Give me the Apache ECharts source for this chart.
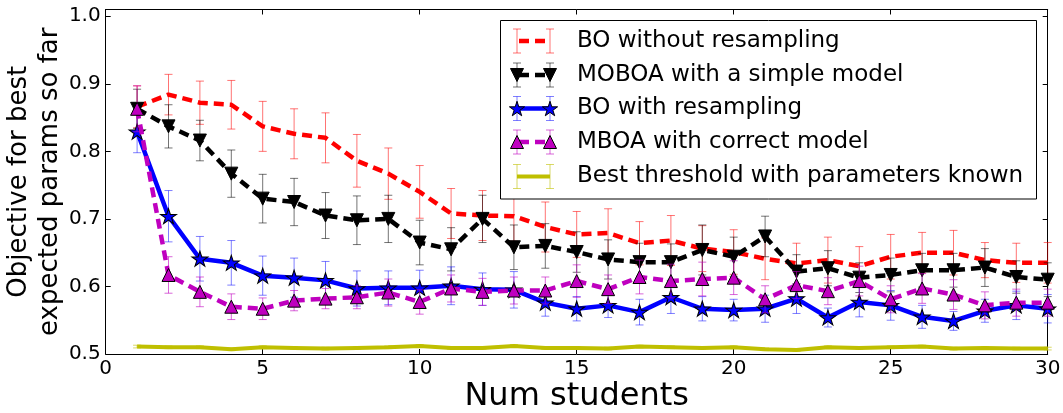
<!DOCTYPE html>
<html>
<head>
<meta charset="utf-8">
<script src="https://cdn.jsdelivr.net/npm/echarts@6/dist/echarts.min.js"></script>
<style>
html,body{margin:0;padding:0;background:#fff;}
#chart{width:1063px;height:413px;}
</style>
</head>
<body>
<div id="chart"></div>
<script>
const numStudents = [1,2,3,4,5,6,7,8,9,10,11,12,13,14,15,16,17,18,19,20,21,22,23,24,25,26,27,28,29,30];
const xTicks = [0,5,10,15,20,25,30];
const yTicks = [0.5,0.6,0.7,0.8,0.9,1.0];

const boNoResample = [0.866,0.884,0.872,0.869,0.837,0.826,0.820,0.786,0.767,0.740,0.708,0.705,0.704,0.688,0.677,0.679,0.664,0.668,0.656,0.651,0.641,0.634,0.639,0.630,0.644,0.650,0.650,0.639,0.635,0.635];
const boNoResampleErr = [0.031,0.030,0.032,0.036,0.037,0.037,0.037,0.039,0.038,0.039,0.037,0.037,0.037,0.037,0.034,0.036,0.032,0.037,0.034,0.033,0.031,0.030,0.034,0.029,0.033,0.030,0.033,0.026,0.029,0.030];

const moboaSimple = [0.863,0.837,0.816,0.767,0.730,0.725,0.705,0.698,0.700,0.665,0.655,0.700,0.658,0.660,0.651,0.640,0.636,0.636,0.654,0.644,0.674,0.622,0.627,0.613,0.617,0.624,0.624,0.628,0.614,0.610];
const moboaSimpleErr = [0.029,0.032,0.030,0.035,0.036,0.035,0.034,0.036,0.035,0.033,0.032,0.035,0.033,0.033,0.030,0.029,0.028,0.027,0.037,0.029,0.030,0.025,0.026,0.022,0.025,0.025,0.025,0.028,0.024,0.025];

const boResample = [0.829,0.704,0.641,0.635,0.616,0.613,0.609,0.597,0.598,0.598,0.601,0.596,0.595,0.576,0.567,0.572,0.562,0.584,0.567,0.565,0.567,0.582,0.554,0.577,0.572,0.555,0.549,0.564,0.572,0.567];
const boResampleErr = [0.031,0.038,0.033,0.033,0.029,0.029,0.028,0.026,0.025,0.026,0.028,0.024,0.027,0.020,0.018,0.018,0.019,0.024,0.018,0.016,0.020,0.022,0.014,0.022,0.022,0.017,0.014,0.017,0.021,0.021];

const mboaCorrect = [0.863,0.617,0.592,0.570,0.567,0.579,0.582,0.584,0.591,0.577,0.597,0.592,0.594,0.594,0.608,0.596,0.614,0.608,0.611,0.613,0.581,0.602,0.593,0.608,0.581,0.597,0.588,0.572,0.576,0.576];
const mboaCorrectErr = [0.034,0.027,0.022,0.019,0.016,0.015,0.015,0.017,0.020,0.018,0.020,0.020,0.020,0.020,0.024,0.021,0.025,0.025,0.025,0.025,0.020,0.020,0.020,0.022,0.020,0.022,0.022,0.020,0.020,0.020];

const bestThreshold = [0.511,0.510,0.510,0.507,0.510,0.509,0.508,0.509,0.510,0.512,0.509,0.509,0.512,0.509,0.509,0.508,0.511,0.510,0.509,0.510,0.507,0.506,0.510,0.509,0.510,0.511,0.508,0.509,0.508,0.508];
const bestThresholdErr = [0.002,0.002,0.002,0.002,0.002,0.002,0.002,0.002,0.002,0.002,0.002,0.002,0.002,0.002,0.002,0.002,0.002,0.002,0.002,0.002,0.002,0.002,0.002,0.002,0.002,0.002,0.002,0.002,0.002,0.002];

const seriesNames = ['BO without resampling','MOBOA with a simple model','BO with resampling','MBOA with correct model','Best threshold with parameters known'];

function starPath(){
  const pts=[];
  for(let i=0;i<10;i++){
    const r = i%2===0 ? 1 : 0.381966;
    const a = Math.PI/2 + i*Math.PI/5;
    pts.push([r*Math.cos(a), -r*Math.sin(a)]);
  }
  return 'path://M'+pts.map(p=>p[0].toFixed(4)+','+p[1].toFixed(4)).join('L')+'Z';
}
const STAR = starPath();

const styles = [
  {color:'#ff0000', err:'rgba(255,0,0,0.55)', type:[10,6], width:4.5, symbol:'none', size:0, rotate:0},
  {color:'#000000', err:'rgba(0,0,0,0.55)', type:[10,6], width:4.5, symbol:'triangle', size:[13,13], rotate:180},
  {color:'#0000ff', err:'rgba(0,0,255,0.5)', type:'solid', width:4.5, symbol:STAR, size:[16,15], rotate:0},
  {color:'#bf00bf', err:'rgba(191,0,191,0.6)', type:[10,6], width:4.5, symbol:'triangle', size:[13,13], rotate:0},
  {color:'#bfbf00', err:'rgba(191,191,0,0.6)', type:'solid', width:4, symbol:'none', size:0, rotate:0}
];
const values = [boNoResample, moboaSimple, boResample, mboaCorrect, bestThreshold];
const errs = [boNoResampleErr, moboaSimpleErr, boResampleErr, mboaCorrectErr, bestThresholdErr];

const series = [];
values.forEach((vals, k) => {
  const st = styles[k];
  series.push({
    type:'custom', name:seriesNames[k]+' err', z: 2*k+1, silent:true,
    xAxisIndex:0, yAxisIndex:0,
    data: numStudents.map((x,i)=>[x, vals[i]-errs[k][i], vals[i]+errs[k][i]]),
    renderItem: function(params, api){
      const lo = api.coord([api.value(0), api.value(1)]);
      const hi = api.coord([api.value(0), api.value(2)]);
      const c = 4;
      const ls = {stroke: st.err, lineWidth: 1};
      return {type:'group', children:[
        {type:'line', shape:{x1:lo[0],y1:lo[1],x2:hi[0],y2:hi[1]}, style:ls},
        {type:'line', shape:{x1:lo[0]-c,y1:lo[1],x2:lo[0]+c,y2:lo[1]}, style:ls},
        {type:'line', shape:{x1:hi[0]-c,y1:hi[1],x2:hi[0]+c,y2:hi[1]}, style:ls}
      ]};
    }
  });
  series.push({
    type:'line', name:seriesNames[k], z: 2*k+2,
    xAxisIndex:0, yAxisIndex:0,
    data: numStudents.map((x,i)=>[x, vals[i]]),
    symbol: st.symbol, symbolSize: st.size, symbolRotate: st.rotate,
    showSymbol: st.symbol !== 'none',
    lineStyle:{color:st.color, width:st.width, type:st.type, cap:'butt'},
    itemStyle:{color:st.color, borderColor:'#000', borderWidth:1},
    emphasis:{disabled:true}
  });
});

const legendLeft = 500.5, legendTop = 20.5, legendW = 536, legendH = 178.5;
const rowY = [41, 75, 108.5, 142, 176.5];
const hx1 = 517, hx2 = 550;
const g = [];
g.push({type:'rect', shape:{x:legendLeft,y:legendTop,width:legendW,height:legendH}, style:{fill:'#fff', stroke:'#000', lineWidth:1}, z:100});
function markerShape(k, cx, cy){
  const st = styles[k];
  if(k===1 || k===3){
    const w=6.5, h=6.5;
    const pts = k===1 ? [[cx,cy+h],[cx-w,cy-h],[cx+w,cy-h]] : [[cx,cy-h],[cx-w,cy+h],[cx+w,cy+h]];
    return {type:'polygon', shape:{points:pts}, style:{fill:st.color, stroke:'#000', lineWidth:1}, z:104};
  }
  if(k===2){
    const pts=[];
    for(let i=0;i<10;i++){
      const r = i%2===0 ? 8 : 8*0.381966;
      const a = Math.PI/2 + i*Math.PI/5;
      pts.push([cx + r*Math.cos(a), cy - r*Math.sin(a) + 0.8]);
    }
    return {type:'polygon', shape:{points:pts}, style:{fill:st.color, stroke:'#000', lineWidth:1}, z:104};
  }
  return null;
}
seriesNames.forEach((name,k)=>{
  const st = styles[k];
  const y = rowY[k];
  [hx1,hx2].forEach(x=>{
    const ls={stroke:st.err, lineWidth:1};
    g.push({type:'line', shape:{x1:x,y1:y-12,x2:x,y2:y+12}, style:ls, z:101});
    g.push({type:'line', shape:{x1:x-4,y1:y-12,x2:x+4,y2:y-12}, style:ls, z:101});
    g.push({type:'line', shape:{x1:x-4,y1:y+12,x2:x+4,y2:y+12}, style:ls, z:101});
  });
  g.push({type:'line', shape:{x1:hx1,y1:y,x2:hx2,y2:y}, style:{stroke:st.color, lineWidth:st.width, lineDash: Array.isArray(st.type)?st.type:null, lineDashOffset: Array.isArray(st.type)? -2 : 0}, z:102});
  [hx1,hx2].forEach(x=>{ const m = markerShape(k,x,y); if(m) g.push(m); });
  g.push({type:'text', x:577, y:y, style:{text:name, fill:'#000', font:'23px "DejaVu Sans"', textVerticalAlign:'middle', textAlign:'left'}, z:105});
});

const axisFont = {fontFamily:'DejaVu Sans', fontSize:20, color:'#000'};
const option = {
  animation:false,
  backgroundColor:'#fff',
  textStyle:{fontFamily:'DejaVu Sans'},
  grid:{left:105.7, right:15.3, top:9.5, bottom:59, containLabel:false, outerBoundsMode:'none'},
  xAxis:[
    {type:'value', position:'bottom', min:xTicks[0], max:xTicks[xTicks.length-1], interval:5,
     name:'Num students', nameLocation:'middle', nameGap:27, nameMoveOverlap:false,
     nameTextStyle:{fontFamily:'DejaVu Sans', fontSize:32, color:'#000'},
     axisLine:{show:true, onZero:false, lineStyle:{color:'#000', width:1}},
     axisTick:{show:true, inside:true, length:5, lineStyle:{color:'#000'}},
     axisLabel:Object.assign({margin:5}, axisFont),
     splitLine:{show:false}},
    {type:'value', position:'top', min:xTicks[0], max:xTicks[xTicks.length-1], interval:5,
     axisLine:{show:true, onZero:false, lineStyle:{color:'#000', width:1}},
     axisTick:{show:true, inside:true, length:5, lineStyle:{color:'#000'}},
     axisLabel:{show:false}, splitLine:{show:false}}
  ],
  yAxis:[
    {type:'value', position:'left', min:yTicks[0], max:1.01, interval:0.1,
     name:'Objective for best\nexpected params so far', nameLocation:'middle', nameGap:40, nameRotate:90, nameMoveOverlap:false,
     nameTextStyle:{fontFamily:'DejaVu Sans', fontSize:26, color:'#000', lineHeight:31},
     axisLine:{show:true, onZero:false, lineStyle:{color:'#000', width:1}},
     axisTick:{show:true, inside:true, length:5, lineStyle:{color:'#000'}},
     axisLabel:Object.assign({margin:5, formatter:function(v){
        const ok = yTicks.some(t=>Math.abs(t-v)<1e-6);
        return ok ? v.toFixed(1) : '';
     }}, axisFont),
     splitLine:{show:false}},
    {type:'value', position:'right', min:yTicks[0], max:1.01, interval:0.1,
     axisLine:{show:true, onZero:false, lineStyle:{color:'#000', width:1}},
     axisTick:{show:true, inside:true, length:5, lineStyle:{color:'#000'}},
     axisLabel:{show:false}, splitLine:{show:false}}
  ],
  series: series,
  graphic: g
};
const chart = echarts.init(document.getElementById('chart'), null, {renderer:'canvas'});
chart.setOption(option);
</script>
</body>
</html>
